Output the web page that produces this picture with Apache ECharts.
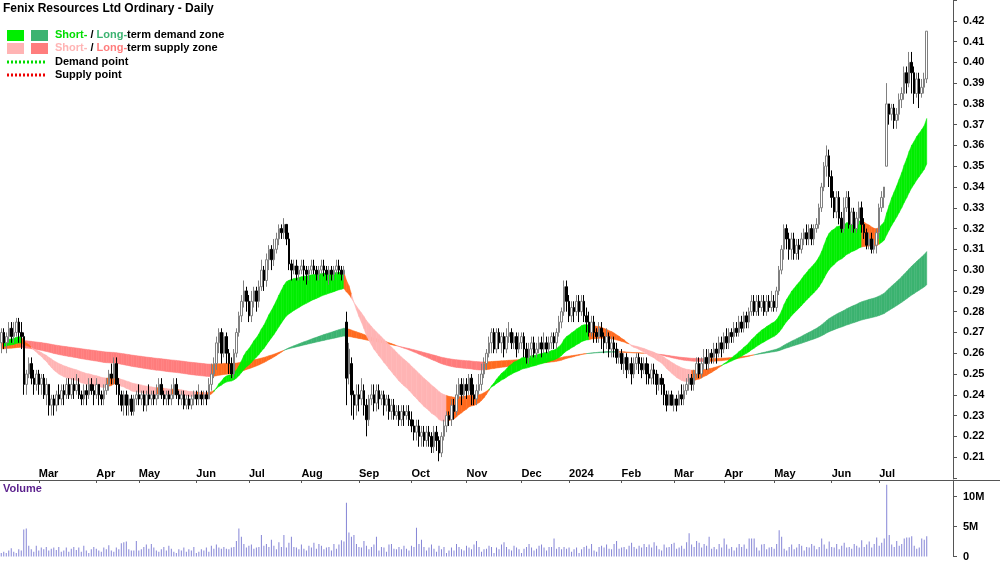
<!DOCTYPE html>
<html><head><meta charset="utf-8">
<script src="https://cdn.jsdelivr.net/npm/echarts@6/dist/echarts.min.js"></script>
<style>html,body{margin:0;padding:0;background:#fff}#c{width:1000px;height:562px}</style>
</head><body><div id="c"></div>
<script>
// OHLC in thousandths: [open, close, low, high]
const bars = [
[265,270,260,272],[270,265,262,272],[265,268,260,270],[268,272,265,275],[272,268,265,275],[268,270,265,275],[270,275,268,277],[275,270,265,277],[270,268,262,275],
[268,245,240,270],
[245,250,240,252],[250,255,248,258],[255,248,245,258],[248,245,240,252],[245,250,242,252],[250,245,240,252],[245,248,240,250],[248,240,238,250],[240,245,235,248],
[245,235,230,245],[235,238,230,240],[238,235,230,240],[235,240,232,242],[240,238,235,245],[238,242,235,245],
[242,240,235,245],[240,245,238,248],[245,240,238,248],[240,245,238,248],[245,242,238,248],[242,245,240,250],[245,240,238,248],[240,238,235,242],[238,242,235,245],[242,240,235,245],[240,245,238,248],[245,242,240,248],[242,240,235,245],[240,245,238,248],
[245,240,235,245],[240,238,235,242],[238,242,235,245],[242,245,240,248],[245,250,242,252],[250,248,245,255],[248,255,245,258],[255,245,240,258],
[245,240,235,248],[240,235,232,242],[235,240,230,242],[240,235,230,242],[235,238,230,240],[238,232,230,240],[232,238,230,240],[238,240,235,242],[240,238,235,245],[238,240,235,242],[240,235,232,242],[235,240,232,242],[240,238,235,245],[238,240,235,242],
[240,238,235,242],[238,240,235,245],[240,245,238,248],[245,240,238,248],[240,238,235,242],[238,240,235,242],[240,238,235,242],[238,240,235,245],[240,245,238,248],[245,240,238,248],[240,238,235,242],[238,240,235,242],[240,235,233,242],[235,238,233,240],[238,235,233,240],[235,238,233,240],[238,240,235,242],[240,238,235,242],[238,240,235,245],[240,238,235,242],[238,240,235,242],[240,238,235,242],
[238,245,238,248],[245,250,242,255],[250,255,248,258],[255,265,252,268],
[265,270,260,272],[270,260,255,272],[260,268,258,270],[268,260,255,270],
[260,255,250,262],[255,250,248,258],[250,260,248,262],
[260,270,258,272],[270,278,268,280],[278,285,275,288],[285,290,282,295],[290,285,280,292],
[285,278,275,288],[278,285,275,290],[285,290,282,292],[290,285,280,292],[285,292,282,295],[292,300,290,305],[300,295,290,302],
[295,305,292,308],[305,310,300,312],[310,305,300,312],[305,310,302,315],[310,315,308,318],[315,320,312,322],[320,318,315,322],
[318,322,315,325],[322,315,312,322],[315,303,300,318],
[303,300,295,305],[300,302,298,305],[302,298,295,305],[298,300,295,302],[300,302,298,305],[302,300,295,305],[300,298,293,302],[298,300,295,302],[300,302,298,305],[302,300,298,305],[300,298,295,302],[298,300,295,302],[300,302,298,305],[302,300,297,305],[300,298,295,302],[298,300,293,302],[300,298,295,302],[298,300,295,302],[300,302,298,305],[302,300,298,305],[300,298,295,302],[298,300,295,302],
[275,248,235,280],[250,262,245,265],
[255,240,230,258],[240,235,228,242],[235,240,230,245],[240,238,232,245],[238,242,235,248],
[242,235,230,245],[235,228,220,238],[228,238,225,240],[238,240,235,245],[240,236,232,245],[236,242,232,245],[242,238,233,245],[238,240,235,242],[240,235,230,242],[235,238,232,240],
[238,232,228,240],[232,235,228,238],[235,230,228,238],[230,232,228,235],[232,228,225,235],[228,232,225,235],[232,230,225,235],[230,232,228,235],[232,228,225,235],[228,225,222,232],
[225,222,218,228],[222,225,218,228],[225,220,215,228],[220,222,215,225],[222,218,215,225],[218,222,215,225],[222,220,215,225],[220,215,212,222],[215,222,212,225],[222,218,213,225],[218,212,208,220],[212,220,210,222],
[220,225,218,228],[225,230,222,232],[230,228,225,232],[228,235,225,238],[235,232,228,238],
[232,240,230,245],[240,245,238,248],[245,240,235,248],[240,245,238,248],[245,242,238,248],[242,248,240,250],[248,240,235,250],[240,238,235,245],
[238,242,235,245],[242,245,240,250],[245,250,242,255],[250,255,248,258],[255,260,252,262],[260,265,258,268],
[265,270,260,272],[270,262,260,272],[262,270,260,272],[270,265,262,272],[265,268,260,270],[268,262,258,270],[262,268,260,272],[268,270,265,275],[270,265,262,272],[265,268,262,270],[268,262,258,270],[262,265,260,270],[265,268,262,270],
[268,262,258,270],[262,258,255,265],[258,262,255,265],[262,265,258,268],[265,260,258,268],[260,262,258,265],[262,265,260,268],[265,262,258,268],[262,265,260,270],[265,262,260,268],[262,265,260,268],[265,268,262,270],[268,265,262,270],[265,270,262,272],
[270,275,268,278],[275,280,272,282],[280,292,278,295],[292,285,280,295],
[285,278,275,288],[278,282,275,285],[282,280,275,285],[280,285,278,288],[285,280,275,288],[280,285,278,288],[285,278,275,288],[278,275,270,282],[275,270,268,280],[270,275,268,278],
[275,270,265,278],[270,268,265,272],[268,272,265,275],[272,268,262,275],[268,265,260,270],[265,268,262,272],[268,262,258,270],[262,265,258,268],
[265,262,258,268],[262,258,255,265],[258,260,255,262],[260,255,252,262],[255,258,250,260],[258,252,248,260],
[252,255,250,258],[255,250,245,258],[250,255,248,258],[255,258,252,260],[258,255,250,260],[255,252,248,258],[252,255,250,258],[255,250,245,258],[250,248,245,255],[248,252,245,255],[252,250,245,255],[250,245,240,252],[245,248,242,250],[248,245,240,250],
[245,240,235,248],[240,235,232,242],[235,240,235,242],[240,235,235,242],[235,238,232,240],[238,235,232,240],[235,240,235,242],[240,238,235,245],
[238,242,235,245],[242,245,240,248],[245,248,242,250],[248,245,242,250],[245,250,242,252],[250,255,248,258],[255,250,248,258],[250,255,248,258],
[255,258,252,262],[258,255,252,262],[255,260,252,262],[260,258,255,262],[258,262,255,265],[262,260,255,265],[260,265,258,268],[265,262,258,268],
[262,268,260,270],[268,265,262,272],[265,270,262,272],[270,268,265,272],[268,272,265,275],[272,270,268,275],[270,275,268,278],[275,272,270,278],[272,278,270,280],[278,275,272,280],
[275,280,272,282],[280,285,278,288],[285,280,278,288],[280,285,278,288],[285,282,278,288],[282,285,280,288],[285,280,278,288],[280,285,278,288],[285,282,280,288],[282,285,280,290],[285,282,280,288],[282,290,280,292],
[290,300,288,302],[300,310,298,312],[310,320,305,322],[320,315,310,322],
[315,310,305,318],[310,315,305,318],[315,308,305,318],[308,312,305,315],[312,310,305,315],[310,315,308,318],[315,318,312,320],[318,315,312,322],[315,320,312,322],[320,315,312,322],[315,320,312,322],[320,322,318,325],
[322,330,320,332],[330,340,328,342],[340,350,338,352],[350,355,345,360],[355,345,340,358],
[345,335,330,348],[335,328,325,338],[328,335,325,338],[335,325,322,338],[325,320,318,328],
[320,330,318,335],[330,335,328,338],[335,322,320,338],[322,328,318,330],[328,320,318,330],[320,325,318,328],[325,330,322,333],[330,322,318,333],
[322,318,315,325],[318,312,310,320],[312,315,310,318],[315,310,308,318],[310,312,308,315],[312,318,308,320],
[318,330,315,332],[330,335,328,338],[335,340,330,340],
[350,380,350,390],
[380,375,370,380],[375,378,372,380],[378,372,368,380],[372,375,368,378],[375,382,372,385],[382,385,378,388],
[385,395,382,398],[395,390,385,398],[390,400,388,405],[400,395,385,405],[395,385,380,398],[385,392,383,395],
[392,385,378,395],[385,388,383,392],[388,392,385,395],
[392,415,390,415]
];
// volume in units of 100,000 shares
const volumes = [
6,8,6,10,14,8,6,12,10,45,47,18,12,8,18,10,15,12,16,10,
13,15,11,16,8,10,15,8,13,16,11,15,8,18,10,6,12,16,13,10,
8,15,12,19,10,8,15,12,22,24,25,12,10,10,26,10,12,16,20,13,
21,15,10,8,12,16,10,18,13,8,6,12,10,15,8,12,10,16,6,8,
12,10,15,8,18,13,20,15,13,16,13,12,15,16,26,47,33,21,15,18,
20,13,15,16,36,18,21,16,28,18,12,24,16,36,15,23,33,16,15,12,
20,13,10,18,15,23,13,21,18,12,15,16,10,21,13,20,27,25,90,40,
33,36,21,16,15,26,18,12,16,20,33,10,16,15,8,20,21,13,12,16,
12,18,13,10,18,16,48,21,28,16,10,15,20,13,8,18,12,16,6,10,
15,10,21,16,12,10,18,15,12,20,26,16,8,12,13,18,16,6,15,12,
20,24,16,12,10,18,15,12,6,13,16,21,15,10,13,18,20,15,10,16,
16,30,13,16,12,16,13,15,8,12,15,6,12,16,18,13,21,10,8,16,
18,15,20,13,12,21,26,13,15,16,12,18,23,16,13,18,15,21,16,20,
15,24,18,12,10,20,15,16,21,23,13,15,18,13,24,39,20,16,26,23,
15,21,18,33,13,16,12,21,15,30,20,13,16,10,15,21,16,20,13,30,
30,30,15,10,20,21,12,15,16,13,21,44,33,13,10,16,20,12,15,21,
18,10,16,15,21,18,12,16,30,20,13,25,16,15,21,12,18,23,15,16,
13,21,18,15,27,16,20,25,15,21,32,18,23,30,120,36,20,16,26,18,
21,30,32,32,34,18,13,15,30,28,34
];
const padBars = 10; // empty trading days after the last bar
const startDate = [2023, 1, 8]; // 8 Feb 2023
const holidays = ['2023-04-07','2023-04-10','2023-04-25','2023-06-12','2023-12-25','2023-12-26','2024-01-01','2024-01-26','2024-03-29','2024-04-01','2024-04-25','2024-06-10'];
const monthNames = ['Jan','Feb','Mar','Apr','May','Jun','Jul','Aug','Sep','Oct','Nov','Dec'];
const priceTicks = [0.21,0.22,0.23,0.24,0.25,0.26,0.27,0.28,0.29,0.30,0.31,0.32,0.33,0.34,0.35,0.36,0.37,0.38,0.39,0.40,0.41,0.42];
const volTicks = [0, 5000000, 10000000];
const emaSeed = {sf:0.266, ss:0.263, lf:0.262, ls:0.266};
const periods = {sf:25, ss:50, lf:150, ls:250};

const dates = []; const monthOf = [];
let d = new Date(Date.UTC(startDate[0], startDate[1], startDate[2]));
while (dates.length < bars.length + padBars) {
  const wd = d.getUTCDay(); const s = d.toISOString().slice(0,10);
  if (wd !== 0 && wd !== 6 && !holidays.includes(s)) { dates.push(s); monthOf.push([d.getUTCFullYear(), d.getUTCMonth()]); }
  d = new Date(d.getTime() + 86400000);
}
const labelSet = new Set();
for (let i = 1; i < bars.length; i++) if (monthOf[i][1] !== monthOf[i-1][1]) labelSet.add(i);
const labelText = i => monthOf[i][1] === 0 ? String(monthOf[i][0]) : monthNames[monthOf[i][1]];

const candle = bars.map(b => b.map(v => v / 1000));
const closes = candle.map(b => b[1]);
function ema(seed, n) { const a = 2/(n+1); let e = seed; return closes.map(c => (e = e + a*(c - e))); }
const sf = ema(emaSeed.sf, periods.sf), ss = ema(emaSeed.ss, periods.ss);
const lf = ema(emaSeed.lf, periods.lf), ls = ema(emaSeed.ls, periods.ls);
function band(f, s) {
  const out = [];
  for (let i = 1; i < f.length; i++) {
    const j = Math.max(0, i - 3);
    let code = 0;
    if (f[i] > s[i] && f[i] >= f[j]) code = 1;
    else if (f[i] < s[i] && f[i] <= f[j]) code = 2;
    out.push([i, f[i-1], f[i], s[i-1], s[i], code]);
  }
  return out;
}
const shortBand = band(sf, ss), longBand = band(lf, ls);
const shortCols = ['#ff6a1f', '#00ee00', '#ffb4b4'];
const longCols = ['#ff6a1f', '#3cb371', '#ff7d7d'];
function renderer(cols) {
  return function (params, api) {
    const i = api.value(0);
    const a = api.coord([i-1, api.value(1)]), b = api.coord([i, api.value(2)]);
    const c = api.coord([i, api.value(4)]), e = api.coord([i-1, api.value(3)]);
    return { type: 'polygon', shape: { points: [a, b, c, e] },
      style: { fill: cols[api.value(5)], stroke: cols[api.value(5)], lineWidth: 0.5 } };
  };
}
const font = 'Liberation Sans, Arial, sans-serif';
const chart = echarts.init(document.getElementById('c'), null, {renderer: 'canvas'});
chart.setOption({
  animation: false, backgroundColor: '#fff',
  grid: [
    {left: 0, right: 47, top: -7.4, height: 485.3},
    {left: 0, right: 47, top: 480, height: 82},
    {left: 0, right: 47, top: 466, height: 14}
  ],
  xAxis: [
    {type: 'category', data: dates, gridIndex: 0, show: false, boundaryGap: true},
    {type: 'category', data: dates, gridIndex: 1, show: false, boundaryGap: true},
    {type: 'category', data: dates, gridIndex: 2, position: 'top', boundaryGap: true,
     axisLine: {show: true, lineStyle: {color: '#555', width: 1}},
     axisTick: {show: true, inside: true, length: 3, alignWithLabel: true, interval: i => labelSet.has(i), lineStyle: {color: '#555'}},
     axisLabel: {inside: true, margin: 2, align: 'left', interval: i => labelSet.has(i),
       formatter: (v, i) => labelText(i), color: '#000', fontWeight: 'bold', fontSize: 11, fontFamily: font},
     splitLine: {show: false}}
  ],
  yAxis: [
    {type: 'value', gridIndex: 0, position: 'right', min: 0.20, max: 0.43, interval: 0.01,
     axisLine: {show: true, lineStyle: {color: '#555'}}, axisTick: {show: true, length: 4, lineStyle: {color: '#555'}},
     splitLine: {show: false},
     axisLabel: {margin: 10, color: '#000', fontWeight: 'bold', fontSize: 11, fontFamily: font,
       formatter: v => priceTicks.some(t => Math.abs(t - v) < 1e-6) ? v.toFixed(2) : ''}},
    {type: 'value', gridIndex: 1, position: 'right', min: 0, max: 12800000, interval: 5000000,
     axisLine: {show: true, lineStyle: {color: '#555'}}, axisTick: {show: true, length: 4, lineStyle: {color: '#555'}},
     splitLine: {show: false},
     axisLabel: {margin: 10, color: '#000', fontWeight: 'bold', fontSize: 11, fontFamily: font,
       formatter: v => !volTicks.includes(v) ? '' : (v === 0 ? '0' : (v / 1e6) + 'M')}},
    {type: 'value', gridIndex: 2, show: false}
  ],
  series: [
    {type: 'custom', xAxisIndex: 0, yAxisIndex: 0, renderItem: renderer(longCols), data: longBand, encode: {x: 0, y: [1,2,3,4]}, z: 1, silent: true},
    {type: 'custom', xAxisIndex: 0, yAxisIndex: 0, renderItem: renderer(shortCols), data: shortBand, encode: {x: 0, y: [1,2,3,4]}, z: 2, silent: true},
    {type: 'candlestick', xAxisIndex: 0, yAxisIndex: 0, data: candle, barWidth: 2, z: 3,
     itemStyle: {color: '#ffffff', color0: '#000000', borderColor: '#808080', borderColor0: '#000000', borderWidth: 1}},
    {type: 'bar', xAxisIndex: 1, yAxisIndex: 1, data: volumes.map(v => v * 100000), barWidth: 1,
     itemStyle: {color: '#8585d6'}}
  ],
  graphic: [
    {type: 'line', shape: {x1: 0, y1: 480.5, x2: 1000, y2: 480.5}, style: {stroke: '#555', lineWidth: 1}},
    {type: 'text', left: 3, top: 3, style: {text: 'Fenix Resources Ltd Ordinary - Daily', font: 'bold 12px ' + font, fill: '#000'}},
    {type: 'text', left: 3, top: 483, style: {text: 'Volume', font: 'bold 11px ' + font, fill: '#5a1f8c'}},
    {type: 'rect', shape: {x: 7, y: 30, width: 17, height: 11}, style: {fill: '#00ee00'}},
    {type: 'rect', shape: {x: 31, y: 30, width: 17, height: 11}, style: {fill: '#3cb371'}},
    {type: 'rect', shape: {x: 7, y: 43, width: 17, height: 11}, style: {fill: '#ffb4b4'}},
    {type: 'rect', shape: {x: 31, y: 43, width: 17, height: 11}, style: {fill: '#ff7d7d'}},
    {type: 'line', shape: {x1: 7, y1: 62, x2: 47, y2: 62}, style: {stroke: '#00dd00', lineWidth: 3, lineDash: [2, 2]}},
    {type: 'line', shape: {x1: 7, y1: 75, x2: 47, y2: 75}, style: {stroke: '#ee0000', lineWidth: 3, lineDash: [2, 2]}},
    {type: 'text', left: 55, top: 29, style: {rich: {g: {fill: '#00dd00', font: 'bold 11px ' + font}, d: {fill: '#3cb371', font: 'bold 11px ' + font}, k: {fill: '#000', font: 'bold 11px ' + font}}, text: '{g|Short-}{k| / }{d|Long-}{k|term demand zone}'}},
    {type: 'text', left: 55, top: 42, style: {rich: {g: {fill: '#ffb4b4', font: 'bold 11px ' + font}, d: {fill: '#ff7d7d', font: 'bold 11px ' + font}, k: {fill: '#000', font: 'bold 11px ' + font}}, text: '{g|Short-}{k| / }{d|Long-}{k|term supply zone}'}},
    {type: 'text', left: 55, top: 56, style: {text: 'Demand point', font: 'bold 11px ' + font, fill: '#000'}},
    {type: 'text', left: 55, top: 69, style: {text: 'Supply point', font: 'bold 11px ' + font, fill: '#000'}}
  ]
});
</script></body></html>
